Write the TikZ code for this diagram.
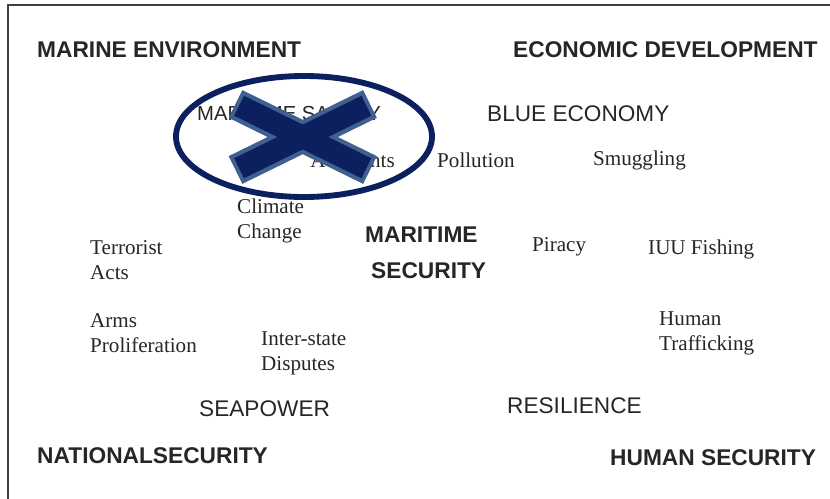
\documentclass[tikz,border=0pt]{standalone}
\usepackage{fontspec}
\setmainfont{Liberation Serif}
\setsansfont{Liberation Sans}
\definecolor{navy}{HTML}{0C1F5E}
\definecolor{steel}{HTML}{40608F}
\definecolor{ink}{HTML}{262626}
\begin{document}
\begin{tikzpicture}[x=0.03cm, y=-0.03cm,
    every node/.style={inner sep=0pt, text=ink},
    head/.style={anchor=west, font=\sffamily\bfseries\fontsize{19.4}{23}\selectfont},
    theme/.style={anchor=west, font=\sffamily\fontsize{19.3}{23}\selectfont},
    issue/.style={anchor=west, align=left, font=\fontsize{18}{21.3}\selectfont},
    bar/.style={steel, line width=26.4pt},
    barfill/.style={navy, line width=19pt, shorten <=3.4pt, shorten >=3.4pt}]
    \useasboundingbox (0,0) rectangle (830,499);
    \draw[line width=1.4pt, black!75] (8,499) -- (8,5) -- (830,5);

    \node[head] (marenv)  at (37, 50)  {MARINE ENVIRONMENT};
    \node[head] (econdev) at (513, 50) {ECONOMIC DEVELOPMENT};
    \node[head] (natsec)  at (37, 456) {NATIONALSECURITY};
    \node[head] (humsec)  at (610, 458) {HUMAN SECURITY};
    \node[head] (marsec1) at (365, 235) {MARITIME};
    \node[head] (marsec2) at (371, 271) {SECURITY};

    \node[theme, font=\sffamily\fontsize{17.3}{21}\selectfont] (safety) at (197, 114) {MARITIME SAFETY};
    \node[theme] (blueeco) at (487, 114) {BLUE ECONOMY};
    \node[theme] (seapow)  at (199, 409) {SEAPOWER};
    \node[theme] (resil)   at (507, 406) {RESILIENCE};

    \node[issue, anchor=east] (accid) at (395, 160) {Accidents};
    \node[issue] (pollu)   at (437, 160) {Pollution};
    \node[issue] (smugg)   at (593, 160) {Smuggling};
    \node[issue] (climate) at (237, 221) {Climate\\Change};
    \node[issue] (terror)  at (90, 260)  {Terrorist\\Acts};
    \node[issue] (piracy)  at (532, 247) {Piracy};
    \node[issue] (iuu)     at (648, 249) {IUU Fishing};
    \node[issue] (arms)    at (90, 333)  {Arms\\Proliferation};
    \node[issue] (dispute) at (261, 353) {Inter-state\\Disputes};
    \node[issue] (traffic) at (659, 333) {Human\\Trafficking};

    % struck out
    \draw[navy, line width=5pt] (304, 136.5) ellipse [x radius=128, y radius=60.5];
    \coordinate (xa) at (235.5, 104);
    \coordinate (xb) at (370, 170);
    \coordinate (xc) at (370, 104);
    \coordinate (xd) at (235.5, 170);
    \draw[bar] (xa) -- (xb);
    \draw[bar] (xc) -- (xd);
    \draw[barfill] (xa) -- (xb);
    \draw[barfill] (xc) -- (xd);
\end{tikzpicture}
\end{document}
